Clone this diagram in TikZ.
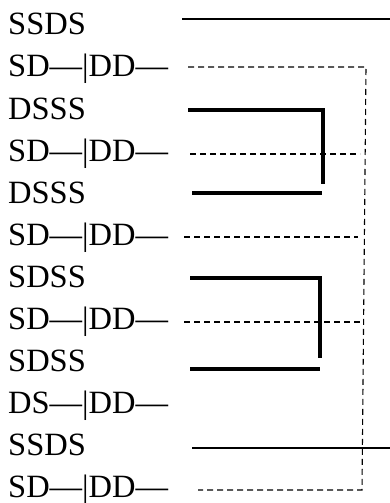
\documentclass[tikz,border=0pt]{standalone}
\usepackage{fontspec}
\setmainfont{Liberation Serif}
\begin{document}
\begin{tikzpicture}[x=1pt,y=-1pt,
  lbl/.style={anchor=base west,inner sep=0pt,font=\fontsize{32.5}{38}\selectfont},
  thinline/.style={line width=1.3pt},
  dashline/.style={line width=1.1pt,dash pattern=on 6pt off 4pt},
  thickline/.style={line width=4pt}]
\useasboundingbox (0,0) rectangle (390,503);
% row labels
\foreach \t [count=\i] in {SSDS,SD---|DD---,DSSS,SD---|DD---,DSSS,SD---|DD---,SDSS,SD---|DD---,SDSS,DS---|DD---,SSDS,SD---|DD---}
  \node[lbl] (r\i) at (8,{35+42*(\i-1)}) {\t};
% end points of the traces
\coordinate (a1) at (182,19);  \coordinate (b1) at (390,19);
\coordinate (a2) at (188,67);  \coordinate (c2) at (366,67);
\coordinate (c12) at (362,490); \coordinate (a12) at (198,490);
\coordinate (a4) at (190,154); \coordinate (b4) at (360,154);
\coordinate (a6) at (184,237); \coordinate (b6) at (358,237);
\coordinate (a8) at (184,322); \coordinate (b8) at (362,322);
\coordinate (a3) at (188,110); \coordinate (b3) at (323,110); \coordinate (d3) at (323,184);
\coordinate (a5) at (192,193); \coordinate (b5) at (322,193);
\coordinate (a7) at (190,278); \coordinate (b7) at (320,278); \coordinate (d7) at (320,358);
\coordinate (a9) at (190,369); \coordinate (b9) at (320,369);
\coordinate (a11) at (192,448); \coordinate (b11) at (390,448);
% thin solid traces
\draw[thinline] (a1) -- (b1);
\draw[thinline] (a11) -- (b11);
% dashed loop and taps
\draw[dashline] (a2) -- (c2) -- (c12) -- (a12);
\draw[dashline] (a4) -- (b4);
\draw[dashline] (a6) -- (b6);
\draw[dashline] (a8) -- (b8);
% heavy brackets
\draw[thickline] (a3) -- (b3) -- (d3);
\draw[thickline] (a5) -- (b5);
\draw[thickline] (a7) -- (b7) -- (d7);
\draw[thickline] (a9) -- (b9);
\end{tikzpicture}
\end{document}
